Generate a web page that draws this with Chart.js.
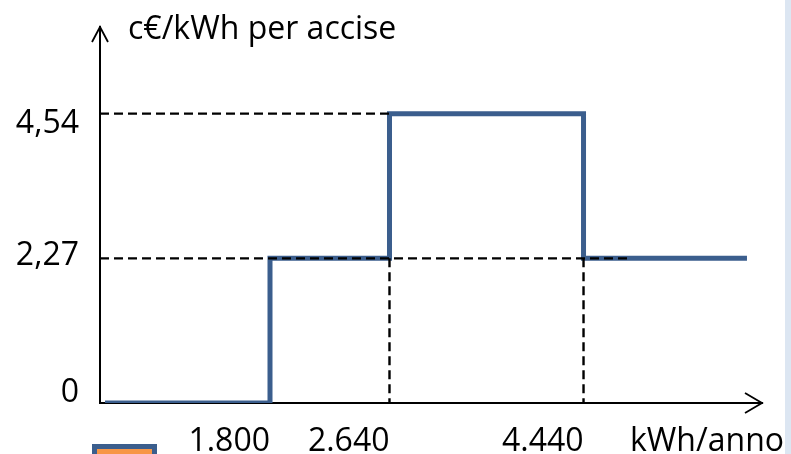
<!DOCTYPE html>
<html>
<head>
<meta charset="utf-8">
<script src="https://cdn.jsdelivr.net/npm/chart.js@4/dist/chart.umd.min.js"></script>
<style>
html,body{margin:0;padding:0;background:#fff;overflow:hidden}
canvas{display:block}
</style>
</head>
<body>
<canvas id="c" width="791" height="454"></canvas>
<script>
// ---- data ----
const breakpoints = [0, 1800, 2640, 4440, 5500];   // kWh/anno (segment limits)
const rates = [0, 2.27, 4.54, 2.27];               // c€/kWh per accise on each segment
const xTickValues = [1800, 2640, 4440];
const xTickLabels = ['1.800', '2.640', '4.440'];
const yTickValues = [0, 2.27, 4.54];
const yTickLabels = ['0', '2,27', '4,54'];
const guide227End = 4730;                          // end of the dashed 2,27 guide
const xTitle = 'kWh/anno';
const yTitle = 'c€/kWh per accise';

// ---- layout (schematic, not-to-scale x axis) ----
const X_MIN = -30, X_MAX = 5600, Y_MAX = 5.9;
const xAnchorValues = [X_MIN, 0, 1800, 2640, 4440, 5500, X_MAX];
const xAnchorFractions = [0, 0.0076, 0.2568, 0.4373, 0.7304, 0.9773, 1];
const yLabelShift = [-1, 7, 19];
const FONT = '"Open Sans", "Noto Sans", sans-serif';
const LINE_COLOR = '#3B5E8D';

class PiecewiseScale extends Chart.LinearScale {
  _frac(v) {
    const a = xAnchorValues, f = xAnchorFractions, n = a.length;
    if (v <= a[0]) return f[0];
    if (v >= a[n - 1]) return f[n - 1];
    for (let i = 1; i < n; i++) {
      if (v <= a[i]) {
        const t = (v - a[i - 1]) / (a[i] - a[i - 1]);
        return f[i - 1] + t * (f[i] - f[i - 1]);
      }
    }
    return f[n - 1];
  }
  getPixelForValue(v) { return this.getPixelForDecimal(this._frac(v)); }
  getValueForPixel(p) {
    const d = this.getDecimalForPixel(p);
    const a = xAnchorValues, f = xAnchorFractions, n = a.length;
    if (d <= f[0]) return a[0];
    for (let i = 1; i < n; i++) {
      if (d <= f[i]) {
        const t = (d - f[i - 1]) / (f[i] - f[i - 1]);
        return a[i - 1] + t * (a[i] - a[i - 1]);
      }
    }
    return a[n - 1];
  }
}
PiecewiseScale.id = 'piecewise';
PiecewiseScale.defaults = Chart.LinearScale.defaults;
Chart.register(PiecewiseScale);

const stepPoints = [];
rates.forEach((r, i) => {
  stepPoints.push({x: breakpoints[i], y: r}, {x: breakpoints[i + 1], y: r});
});

const guideStyle = {
  type: 'scatter', showLine: true, borderColor: '#000', borderWidth: 2.4,
  borderDash: [9, 5], pointRadius: 0, order: 0, fill: false
};

const decor = {
  id: 'decor',
  beforeDraw(chart) {
    const ctx = chart.ctx;
    ctx.save();
    ctx.fillStyle = '#fff';
    ctx.fillRect(0, 0, chart.width, chart.height);
    ctx.restore();
  },
  afterDraw(chart) {
    const {ctx, chartArea: a, scales: {y}} = chart;
    ctx.save();
    // arrow heads
    ctx.strokeStyle = '#000';
    ctx.lineWidth = 1.8;
    ctx.beginPath();
    ctx.moveTo(a.left - 8, a.top + 15); ctx.lineTo(a.left, a.top); ctx.lineTo(a.left + 8, a.top + 15);
    ctx.stroke();
    ctx.beginPath();
    ctx.moveTo(a.right - 17, a.bottom - 10); ctx.lineTo(a.right, a.bottom); ctx.lineTo(a.right - 17, a.bottom + 10);
    ctx.stroke();
    // y tick labels
    ctx.fillStyle = '#000';
    ctx.font = '32px ' + FONT;
    ctx.textAlign = 'right';
    ctx.textBaseline = 'alphabetic';
    yTickValues.forEach((v, i) => {
      ctx.fillText(yTickLabels[i], a.left - 21, y.getPixelForValue(v) + yLabelShift[i]);
    });
    // axis titles
    ctx.textAlign = 'left';
    ctx.fillText(yTitle, a.left + 28, 39);
    ctx.fillText(xTitle, 630, 451);
    // legend stub
    ctx.fillStyle = '#F79646';
    ctx.fillRect(95, 447, 59, 20);
    ctx.strokeStyle = LINE_COLOR;
    ctx.lineWidth = 5;
    ctx.strokeRect(94.5, 446.5, 60, 20);
    // right strip
    ctx.fillStyle = '#DCE6F2';
    ctx.fillRect(785, 0, 6, chart.height);
    ctx.restore();
  }
};

new Chart(document.getElementById('c'), {
  type: 'scatter',
  data: {
    datasets: [
      Object.assign({}, guideStyle, {data: [{x: X_MIN, y: yTickValues[2]}, {x: xTickValues[1], y: yTickValues[2]}]}),
      Object.assign({}, guideStyle, {data: [{x: X_MIN, y: yTickValues[1]}, {x: guide227End, y: yTickValues[1]}]}),
      Object.assign({}, guideStyle, {data: [{x: xTickValues[1], y: yTickValues[1]}, {x: xTickValues[1], y: yTickValues[0]}]}),
      Object.assign({}, guideStyle, {data: [{x: xTickValues[2], y: yTickValues[1]}, {x: xTickValues[2], y: yTickValues[0]}]}),
      {
        type: 'scatter', label: 'accise', data: stepPoints, showLine: true,
        borderColor: LINE_COLOR, borderWidth: 5, borderJoinStyle: 'miter', borderCapStyle: 'butt',
        pointRadius: 0, order: 1, fill: false
      }
    ]
  },
  options: {
    responsive: false,
    animation: false,
    devicePixelRatio: 1,
    layout: {padding: {left: 0, top: 27, right: 29, bottom: 0}},
    plugins: {legend: {display: false}, tooltip: {enabled: false}},
    scales: {
      x: {
        type: 'piecewise', min: X_MIN, max: X_MAX,
        grid: {display: false, drawTicks: false},
        border: {display: true, color: '#000', width: 2},
        afterBuildTicks: s => { s.ticks = xTickValues.map(v => ({value: v})); },
        ticks: {
          autoSkip: false, maxRotation: 0, minRotation: 0, align: 'end', padding: 20,
          color: '#000', font: {family: FONT, size: 32},
          callback: (v, i) => xTickLabels[i]
        },
        afterFit: s => { s.height = 51; }
      },
      y: {
        min: 0, max: Y_MAX,
        grid: {display: false, drawTicks: false},
        border: {display: true, color: '#000', width: 2},
        ticks: {display: false},
        afterFit: s => { s.width = 100; }
      }
    }
  },
  plugins: [decor]
});
</script>
</body>
</html>
